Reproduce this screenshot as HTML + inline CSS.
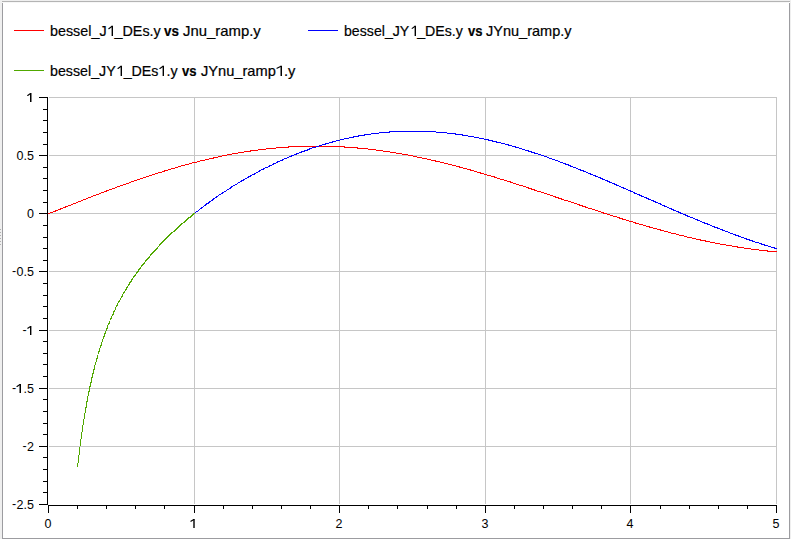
<!DOCTYPE html>
<html><head><meta charset="utf-8"><style>
html,body{margin:0;padding:0;}
body{width:791px;height:539px;background:#efefef;position:relative;overflow:hidden;font-family:"Liberation Sans",sans-serif;}
.frame{position:absolute;left:2px;top:1px;width:788px;height:538px;background:#fff;}
.bt{position:absolute;left:2px;top:1px;width:788px;height:1px;background:#b4b4b4;}
.bt2{position:absolute;left:2px;top:2px;width:787px;height:1px;background:#f7f7f7;}
.bl{position:absolute;left:2px;top:3px;width:1px;height:536px;background:#9c9ca0;}
.br{position:absolute;left:789px;top:3px;width:1px;height:536px;background:#9c9ca0;}
.bb{position:absolute;left:2px;top:538px;width:788px;height:1px;background:#9c9ca0;}
.dot{position:absolute;left:0;width:1px;height:1px;background:#b0b0b0;}
svg{position:absolute;left:0;top:0;}
.leg{position:absolute;white-space:nowrap;font-size:14.5px;color:#000;line-height:20px;-webkit-text-stroke:0.2px #000;transform-origin:0 0;}
.leg.b{font-weight:bold;}
.one{position:relative;color:transparent;-webkit-text-stroke:0;}
.mn{position:relative;top:-1px;left:-0.5px;}
.yl{position:absolute;right:757px;font-size:12.5px;line-height:16px;color:#000;white-space:nowrap;}
.xl{position:absolute;top:516px;width:40px;text-align:center;font-size:12.5px;line-height:16px;color:#000;}
</style></head><body>
<div class="frame"></div>
<div class="bt"></div><div class="bt2"></div><div class="bl"></div><div class="br"></div><div class="bb"></div>
<div class="dot" style="top:229px"></div><div class="dot" style="top:232px"></div><div class="dot" style="top:235px"></div><div class="dot" style="top:238px"></div><div class="dot" style="top:241px"></div><div class="dot" style="top:244px"></div>
<svg width="791" height="539" shape-rendering="crispEdges">
<rect x="14" y="30" width="30" height="1" fill="#ff0000"/>
<rect x="308" y="30" width="30" height="1" fill="#0000ff"/>
<rect x="14" y="70" width="30" height="1" fill="#50a800"/>
<path d="M194 97h1v407h-1zM339 97h1v407h-1zM485 97h1v407h-1zM630 97h1v407h-1zM776 97h1v407h-1zM49 97h728v1h-728zM49 155h728v1h-728zM49 213h728v1h-728zM49 271h728v1h-728zM49 330h728v1h-728zM49 388h728v1h-728zM49 446h728v1h-728z" fill="#c6c6c6"/>
<path d="M47 97h1v408h-1zM39 97h8v1h-8zM43 109h4v1h-4zM43 120h4v1h-4zM43 132h4v1h-4zM43 144h4v1h-4zM39 155h8v1h-8zM43 167h4v1h-4zM43 178h4v1h-4zM43 190h4v1h-4zM43 202h4v1h-4zM39 213h8v1h-8zM43 225h4v1h-4zM43 237h4v1h-4zM43 248h4v1h-4zM43 260h4v1h-4zM39 271h8v1h-8zM43 283h4v1h-4zM43 295h4v1h-4zM43 306h4v1h-4zM43 318h4v1h-4zM39 330h8v1h-8zM43 341h4v1h-4zM43 353h4v1h-4zM43 364h4v1h-4zM43 376h4v1h-4zM39 388h8v1h-8zM43 399h4v1h-4zM43 411h4v1h-4zM43 423h4v1h-4zM43 434h4v1h-4zM39 446h8v1h-8zM43 457h4v1h-4zM43 469h4v1h-4zM43 481h4v1h-4zM43 492h4v1h-4zM39 504h8v1h-8zM48 505h729v1h-729zM48 505h1v8h-1zM77 505h1v4h-1zM106 505h1v4h-1zM135 505h1v4h-1zM164 505h1v4h-1zM194 505h1v8h-1zM223 505h1v4h-1zM252 505h1v4h-1zM281 505h1v4h-1zM310 505h1v4h-1zM339 505h1v8h-1zM368 505h1v4h-1zM397 505h1v4h-1zM427 505h1v4h-1zM456 505h1v4h-1zM485 505h1v8h-1zM514 505h1v4h-1zM543 505h1v4h-1zM572 505h1v4h-1zM601 505h1v4h-1zM630 505h1v8h-1zM660 505h1v4h-1zM689 505h1v4h-1zM718 505h1v4h-1zM747 505h1v4h-1zM776 505h1v8h-1z" fill="#000"/>
<path d="M288 146h57v1h-57zM276 147h13v1h-13zM344 147h14v1h-14zM266 148h10v1h-10zM357 148h11v1h-11zM258 149h8v1h-8zM368 149h8v1h-8zM250 150h8v1h-8zM376 150h7v1h-7zM244 151h7v1h-7zM383 151h7v1h-7zM238 152h6v1h-6zM390 152h6v1h-6zM232 153h6v1h-6zM396 153h6v1h-6zM227 154h5v1h-5zM402 154h6v1h-6zM222 155h5v1h-5zM408 155h5v1h-5zM218 156h4v1h-4zM413 156h4v1h-4zM213 157h5v1h-5zM417 157h5v1h-5zM209 158h5v1h-5zM422 158h5v1h-5zM205 159h4v1h-4zM427 159h4v1h-4zM200 160h5v1h-5zM431 160h5v1h-5zM197 161h3v1h-3zM435 161h5v1h-5zM192 162h5v1h-5zM440 162h4v1h-4zM189 163h3v1h-3zM444 163h4v1h-4zM185 164h4v1h-4zM448 164h4v1h-4zM181 165h4v1h-4zM452 165h4v1h-4zM178 166h3v1h-3zM456 166h4v1h-4zM175 167h3v1h-3zM459 167h4v1h-4zM171 168h4v1h-4zM463 168h4v1h-4zM168 169h3v1h-3zM467 169h4v1h-4zM164 170h4v1h-4zM470 170h4v1h-4zM162 171h3v1h-3zM474 171h3v1h-3zM158 172h4v1h-4zM477 172h4v1h-4zM155 173h3v1h-3zM480 173h4v1h-4zM152 174h3v1h-3zM484 174h3v1h-3zM149 175h3v1h-3zM487 175h4v1h-4zM146 176h3v1h-3zM491 176h4v1h-4zM143 177h3v1h-3zM494 177h3v1h-3zM140 178h3v1h-3zM497 178h3v1h-3zM137 179h3v1h-3zM500 179h4v1h-4zM134 180h3v1h-3zM504 180h3v1h-3zM131 181h3v1h-3zM507 181h4v1h-4zM129 182h2v1h-2zM510 182h3v1h-3zM126 183h3v1h-3zM513 183h3v1h-3zM123 184h3v1h-3zM516 184h3v1h-3zM120 185h3v1h-3zM519 185h4v1h-4zM117 186h3v1h-3zM523 186h3v1h-3zM115 187h2v1h-2zM526 187h3v1h-3zM112 188h3v1h-3zM528 188h4v1h-4zM109 189h3v1h-3zM531 189h4v1h-4zM106 190h3v1h-3zM534 190h3v1h-3zM104 191h3v1h-3zM537 191h4v1h-4zM101 192h3v1h-3zM541 192h3v1h-3zM99 193h2v1h-2zM544 193h3v1h-3zM96 194h3v1h-3zM547 194h3v1h-3zM93 195h3v1h-3zM550 195h3v1h-3zM91 196h2v1h-2zM553 196h3v1h-3zM88 197h3v1h-3zM555 197h4v1h-4zM86 198h2v1h-2zM558 198h4v1h-4zM83 199h3v1h-3zM561 199h3v1h-3zM81 200h2v1h-2zM564 200h4v1h-4zM78 201h3v1h-3zM568 201h3v1h-3zM76 202h2v1h-2zM571 202h3v1h-3zM73 203h3v1h-3zM574 203h3v1h-3zM71 204h2v1h-2zM577 204h3v1h-3zM68 205h3v1h-3zM579 205h4v1h-4zM65 206h3v1h-3zM582 206h4v1h-4zM63 207h3v1h-3zM585 207h3v1h-3zM60 208h3v1h-3zM588 208h4v1h-4zM58 209h3v1h-3zM592 209h3v1h-3zM55 210h3v1h-3zM595 210h3v1h-3zM53 211h3v1h-3zM598 211h3v1h-3zM50 212h3v1h-3zM601 212h3v1h-3zM48 213h2v1h-2zM603 213h4v1h-4zM607 214h3v1h-3zM610 215h3v1h-3zM613 216h4v1h-4zM617 217h3v1h-3zM619 218h4v1h-4zM622 219h4v1h-4zM626 220h3v1h-3zM629 221h4v1h-4zM633 222h3v1h-3zM635 223h4v1h-4zM639 224h4v1h-4zM643 225h3v1h-3zM646 226h4v1h-4zM649 227h4v1h-4zM653 228h4v1h-4zM657 229h4v1h-4zM660 230h4v1h-4zM664 231h4v1h-4zM668 232h3v1h-3zM671 233h5v1h-5zM676 234h3v1h-3zM679 235h5v1h-5zM684 236h3v1h-3zM687 237h5v1h-5zM692 238h4v1h-4zM696 239h5v1h-5zM700 240h6v1h-6zM705 241h5v1h-5zM710 242h5v1h-5zM715 243h5v1h-5zM720 244h6v1h-6zM726 245h6v1h-6zM732 246h6v1h-6zM737 247h7v1h-7zM744 248h7v1h-7zM751 249h8v1h-8zM759 250h9v1h-9zM767 251h10v1h-10z" fill="#ff0000"/>
<path d="M389 131h47v1h-47zM379 132h11v1h-11zM436 132h11v1h-11zM371 133h8v1h-8zM447 133h9v1h-9zM364 134h7v1h-7zM455 134h8v1h-8zM358 135h7v1h-7zM462 135h6v1h-6zM353 136h6v1h-6zM468 136h6v1h-6zM349 137h5v1h-5zM474 137h5v1h-5zM344 138h5v1h-5zM479 138h5v1h-5zM340 139h4v1h-4zM484 139h5v1h-5zM336 140h4v1h-4zM488 140h5v1h-5zM332 141h4v1h-4zM492 141h5v1h-5zM329 142h4v1h-4zM496 142h5v1h-5zM325 143h4v1h-4zM501 143h4v1h-4zM322 144h4v1h-4zM505 144h4v1h-4zM319 145h3v1h-3zM508 145h4v1h-4zM316 146h3v1h-3zM512 146h4v1h-4zM312 147h4v1h-4zM515 147h4v1h-4zM309 148h3v1h-3zM519 148h3v1h-3zM307 149h3v1h-3zM522 149h3v1h-3zM304 150h4v1h-4zM525 150h4v1h-4zM301 151h4v1h-4zM528 151h4v1h-4zM299 152h3v1h-3zM531 152h4v1h-4zM296 153h3v1h-3zM534 153h4v1h-4zM294 154h3v1h-3zM538 154h3v1h-3zM291 155h3v1h-3zM541 155h3v1h-3zM289 156h3v1h-3zM544 156h3v1h-3zM287 157h2v1h-2zM547 157h2v1h-2zM284 158h3v1h-3zM549 158h3v1h-3zM282 159h2v1h-2zM552 159h3v1h-3zM280 160h3v1h-3zM555 160h3v1h-3zM277 161h3v1h-3zM558 161h2v1h-2zM276 162h2v1h-2zM560 162h3v1h-3zM273 163h3v1h-3zM563 163h3v1h-3zM272 164h2v1h-2zM565 164h4v1h-4zM269 165h3v1h-3zM568 165h3v1h-3zM268 166h2v1h-2zM570 166h3v1h-3zM265 167h3v1h-3zM573 167h3v1h-3zM263 168h2v1h-2zM576 168h2v1h-2zM261 169h3v1h-3zM578 169h3v1h-3zM259 170h2v1h-2zM580 170h4v1h-4zM258 171h2v1h-2zM583 171h3v1h-3zM256 172h2v1h-2zM586 172h2v1h-2zM254 173h2v1h-2zM588 173h3v1h-3zM252 174h3v1h-3zM590 174h3v1h-3zM250 175h2v1h-2zM593 175h3v1h-3zM248 176h3v1h-3zM595 176h3v1h-3zM247 177h2v1h-2zM598 177h3v1h-3zM245 178h2v1h-2zM600 178h3v1h-3zM243 179h2v1h-2zM602 179h3v1h-3zM241 180h3v1h-3zM605 180h3v1h-3zM240 181h2v1h-2zM607 181h3v1h-3zM238 182h2v1h-2zM609 182h3v1h-3zM237 183h1v1h-1zM612 183h3v1h-3zM235 184h2v1h-2zM614 184h3v1h-3zM233 185h2v1h-2zM616 185h3v1h-3zM231 186h2v1h-2zM619 186h2v1h-2zM230 187h2v1h-2zM621 187h3v1h-3zM229 188h2v1h-2zM623 188h3v1h-3zM227 189h2v1h-2zM626 189h2v1h-2zM226 190h1v1h-1zM628 190h3v1h-3zM224 191h2v1h-2zM630 191h3v1h-3zM222 192h2v1h-2zM633 192h2v1h-2zM221 193h2v1h-2zM634 193h3v1h-3zM219 194h2v1h-2zM637 194h3v1h-3zM218 195h1v1h-1zM639 195h3v1h-3zM216 196h2v1h-2zM641 196h3v1h-3zM215 197h2v1h-2zM644 197h3v1h-3zM213 198h2v1h-2zM646 198h3v1h-3zM212 199h2v1h-2zM648 199h3v1h-3zM211 200h2v1h-2zM651 200h3v1h-3zM209 201h2v1h-2zM653 201h3v1h-3zM208 202h2v1h-2zM655 202h3v1h-3zM206 203h3v1h-3zM658 203h3v1h-3zM205 204h2v1h-2zM660 204h2v1h-2zM204 205h2v1h-2zM662 205h3v1h-3zM203 206h1v1h-1zM664 206h3v1h-3zM201 207h2v1h-2zM667 207h2v1h-2zM200 208h2v1h-2zM669 208h3v1h-3zM199 209h1v1h-1zM671 209h3v1h-3zM198 210h1v1h-1zM673 210h3v1h-3zM196 211h2v1h-2zM676 211h3v1h-3zM195 212h1v1h-1zM678 212h3v1h-3zM194 213h1v1h-1zM680 213h3v1h-3zM683 214h3v1h-3zM685 215h3v1h-3zM687 216h3v1h-3zM690 217h3v1h-3zM693 218h2v1h-2zM695 219h3v1h-3zM697 220h3v1h-3zM700 221h2v1h-2zM702 222h3v1h-3zM704 223h4v1h-4zM707 224h3v1h-3zM710 225h2v1h-2zM712 226h3v1h-3zM714 227h4v1h-4zM717 228h3v1h-3zM720 229h3v1h-3zM722 230h3v1h-3zM725 231h3v1h-3zM728 232h2v1h-2zM730 233h3v1h-3zM733 234h3v1h-3zM735 235h4v1h-4zM738 236h3v1h-3zM741 237h3v1h-3zM744 238h3v1h-3zM746 239h4v1h-4zM749 240h4v1h-4zM752 241h3v1h-3zM755 242h4v1h-4zM759 243h3v1h-3zM761 244h4v1h-4zM764 245h4v1h-4zM768 246h3v1h-3zM771 247h4v1h-4zM774 248h3v1h-3z" fill="#0000ff"/>
<path d="M193 213h2v1h-2zM192 214h2v1h-2zM191 215h2v1h-2zM190 216h2v1h-2zM188 217h3v1h-3zM187 218h2v1h-2zM186 219h2v1h-2zM185 220h2v1h-2zM184 221h2v1h-2zM183 222h2v1h-2zM181 223h2v1h-2zM180 224h2v1h-2zM179 225h2v1h-2zM178 226h2v1h-2zM177 227h2v1h-2zM176 228h2v1h-2zM175 229h2v1h-2zM174 230h2v1h-2zM173 231h2v1h-2zM171 232h2v1h-2zM170 233h2v1h-2zM169 234h2v1h-2zM168 235h2v1h-2zM167 236h2v1h-2zM166 237h2v1h-2zM165 238h2v1h-2zM164 239h2v1h-2zM163 240h2v1h-2zM162 241h2v1h-2zM161 242h2v1h-2zM160 243h2v1h-2zM159 244h2v1h-2zM159 245h1v1h-1zM158 246h1v1h-1zM157 247h1v1h-1zM156 248h2v1h-2zM155 249h2v1h-2zM154 250h2v1h-2zM153 251h2v1h-2zM152 252h2v1h-2zM151 253h2v1h-2zM150 254h2v1h-2zM150 255h1v1h-1zM149 256h1v1h-1zM148 257h2v1h-2zM147 258h2v1h-2zM146 259h2v1h-2zM145 260h2v1h-2zM145 261h1v1h-1zM144 262h1v1h-1zM143 263h2v1h-2zM142 264h2v1h-2zM141 265h2v1h-2zM141 266h1v1h-1zM140 267h1v1h-1zM139 268h2v1h-2zM138 269h2v1h-2zM138 270h1v1h-1zM137 271h2v1h-2zM136 272h2v1h-2zM136 273h1v1h-1zM135 274h1v1h-1zM134 275h2v1h-2zM133 276h2v1h-2zM133 277h1v1h-1zM132 278h1v1h-1zM131 279h2v1h-2zM131 280h1v1h-1zM130 281h2v1h-2zM129 282h2v1h-2zM129 283h1v1h-1zM128 284h2v1h-2zM128 285h1v1h-1zM127 286h1v1h-1zM126 287h2v1h-2zM126 288h1v1h-1zM125 289h2v1h-2zM125 290h1v1h-1zM124 291h1v1h-1zM123 292h2v1h-2zM123 293h1v1h-1zM122 294h1v1h-1zM122 295h1v1h-1zM121 296h2v1h-2zM121 297h1v1h-1zM120 298h1v1h-1zM120 299h1v1h-1zM119 300h1v1h-1zM118 301h2v1h-2zM118 302h1v1h-1zM117 303h1v1h-1zM117 304h1v1h-1zM116 305h2v1h-2zM116 306h1v1h-1zM115 307h1v1h-1zM115 308h1v1h-1zM115 309h1v1h-1zM114 310h1v1h-1zM113 311h2v1h-2zM113 312h1v1h-1zM113 313h1v1h-1zM112 314h2v1h-2zM112 315h1v1h-1zM111 316h1v1h-1zM111 317h1v1h-1zM110 318h2v1h-2zM110 319h1v1h-1zM109 321h1v1h-1zM109 322h1v1h-1zM108 323h2v1h-2zM108 324h1v1h-1zM107 325h1v1h-1zM107 326h1v1h-1zM107 327h1v1h-1zM106 328h2v1h-2zM106 329h1v1h-1zM106 330h1v1h-1zM105 331h1v1h-1zM105 332h1v1h-1zM104 333h2v1h-2zM104 334h1v1h-1zM104 335h1v1h-1zM103 336h2v1h-2zM103 337h1v1h-1zM103 338h1v1h-1zM102 339h1v1h-1zM102 340h1v1h-1zM102 341h1v1h-1zM101 342h1v1h-1zM101 343h1v1h-1zM101 344h1v1h-1zM100 345h2v1h-2zM100 346h1v1h-1zM100 347h1v1h-1zM99 348h1v1h-1zM99 349h1v1h-1zM99 350h1v1h-1zM98 351h2v1h-2zM98 352h1v1h-1zM98 353h1v1h-1zM97 355h1v1h-1zM97 356h1v1h-1zM97 357h1v1h-1zM96 358h2v1h-2zM96 359h1v1h-1zM96 360h1v1h-1zM96 361h1v1h-1zM95 362h1v1h-1zM95 363h1v1h-1zM95 364h1v1h-1zM94 365h1v1h-1zM94 366h1v1h-1zM94 367h1v1h-1zM94 368h1v1h-1zM93 369h2v1h-2zM93 370h1v1h-1zM93 371h1v1h-1zM93 372h1v1h-1zM92 373h2v1h-2zM92 374h1v1h-1zM92 375h1v1h-1zM92 376h1v1h-1zM91 377h2v1h-2zM91 378h1v1h-1zM91 379h1v1h-1zM91 380h1v1h-1zM91 381h1v1h-1zM90 382h2v1h-2zM90 383h1v1h-1zM90 384h1v1h-1zM90 385h1v1h-1zM89 386h2v1h-2zM89 387h1v1h-1zM89 388h1v1h-1zM89 389h1v1h-1zM89 390h1v1h-1zM88 391h2v1h-2zM88 392h1v1h-1zM88 393h1v1h-1zM88 394h1v1h-1zM88 395h1v1h-1zM87 396h1v1h-1zM87 397h1v1h-1zM87 398h1v1h-1zM87 399h1v1h-1zM87 400h1v1h-1zM86 401h2v1h-2zM86 402h1v1h-1zM86 403h1v1h-1zM86 404h1v1h-1zM86 405h1v1h-1zM86 406h1v1h-1zM85 407h2v1h-2zM85 408h1v1h-1zM85 409h1v1h-1zM85 410h1v1h-1zM85 411h1v1h-1zM85 412h1v1h-1zM84 413h1v1h-1zM84 414h1v1h-1zM84 415h1v1h-1zM84 416h1v1h-1zM84 417h1v1h-1zM84 418h1v1h-1zM83 419h1v1h-1zM83 420h1v1h-1zM83 421h1v1h-1zM83 422h1v1h-1zM83 423h1v1h-1zM83 424h1v1h-1zM82 425h1v1h-1zM82 426h1v1h-1zM82 427h1v1h-1zM82 428h1v1h-1zM82 429h1v1h-1zM82 430h1v1h-1zM82 431h1v1h-1zM81 432h1v1h-1zM81 433h1v1h-1zM81 434h1v1h-1zM81 435h1v1h-1zM81 436h1v1h-1zM81 437h1v1h-1zM81 438h1v1h-1zM80 439h1v1h-1zM80 440h1v1h-1zM80 441h1v1h-1zM80 442h1v1h-1zM80 443h1v1h-1zM80 444h1v1h-1zM80 445h1v1h-1zM79 447h1v1h-1zM79 448h1v1h-1zM79 449h1v1h-1zM79 450h1v1h-1zM79 451h1v1h-1zM79 452h1v1h-1zM79 453h1v1h-1zM79 454h1v1h-1zM78 455h1v1h-1zM78 456h1v1h-1zM78 457h1v1h-1zM78 458h1v1h-1zM78 459h1v1h-1zM78 460h1v1h-1zM78 461h1v1h-1zM78 462h1v1h-1zM77 463h1v1h-1zM77 464h1v1h-1zM77 465h1v1h-1zM77 466h1v1h-1z" fill="#50a800"/>
<g shape-rendering="geometricPrecision"><rect x="111.6" y="25.8" width="1.40" height="10.2" fill="#000"/><line x1="108.8" y1="28.7" x2="112.10" y2="26.30" stroke="#000" stroke-width="1.15" stroke-linecap="round"/><rect x="414.6" y="25.8" width="1.40" height="10.2" fill="#000"/><line x1="412.2" y1="28.4" x2="415.10" y2="26.30" stroke="#000" stroke-width="1.15" stroke-linecap="round"/><rect x="120.6" y="65.8" width="1.40" height="10.200000000000003" fill="#000"/><line x1="118.0" y1="68.5" x2="121.10" y2="66.30" stroke="#000" stroke-width="1.15" stroke-linecap="round"/><rect x="162.6" y="65.8" width="1.40" height="10.200000000000003" fill="#000"/><line x1="159.9" y1="68.4" x2="163.10" y2="66.30" stroke="#000" stroke-width="1.15" stroke-linecap="round"/><rect x="280.5" y="65.8" width="1.50" height="10.200000000000003" fill="#000"/><line x1="277.0" y1="68.2" x2="281.00" y2="66.30" stroke="#000" stroke-width="1.15" stroke-linecap="round"/><rect x="30.0" y="93.0" width="1.50" height="9.0" fill="#000"/><line x1="27.7" y1="95.5" x2="30.50" y2="93.50" stroke="#000" stroke-width="1.15" stroke-linecap="round"/><rect x="30.0" y="326.0" width="1.40" height="9.0" fill="#000"/><line x1="27.8" y1="328.2" x2="30.50" y2="326.50" stroke="#000" stroke-width="1.15" stroke-linecap="round"/><rect x="19.5" y="384.0" width="1.50" height="9.0" fill="#000"/><line x1="17.0" y1="386.4" x2="20.00" y2="384.50" stroke="#000" stroke-width="1.15" stroke-linecap="round"/><rect x="193.3" y="519.0" width="1.40" height="9.0" fill="#000"/><line x1="190.9" y1="521.2" x2="193.80" y2="519.50" stroke="#000" stroke-width="1.15" stroke-linecap="round"/></g>
</svg>
<div class="leg" style="left:49.81px;top:21px;transform:scaleX(0.9883)">bessel_J<span class="one">1</span>_DEs.y</div><div class="leg b" style="left:164.30px;top:21px;transform:scaleX(0.9250)">vs</div><div class="leg" style="left:183.20px;top:21px;transform:scaleX(1.0263)">Jnu_ramp.y</div><div class="leg" style="left:344.02px;top:21px;transform:scaleX(0.9760)">bessel_JY<span class="one">1</span>_DEs.y</div><div class="leg b" style="left:467.70px;top:21px;transform:scaleX(0.9000)">vs</div><div class="leg" style="left:486.30px;top:21px;transform:scaleX(1.0012)">JYnu_ramp.y</div><div class="leg" style="left:49.62px;top:61px;transform:scaleX(0.9822)">bessel_JY<span class="one">1</span>_DEs<span class="one">1</span>.y</div><div class="leg b" style="left:181.90px;top:61px;transform:scaleX(0.9000)">vs</div><div class="leg" style="left:200.80px;top:61px;transform:scaleX(1.0085)">JYnu_ramp<span class="one">1</span>.y</div>
<div class="yl" style="top:90px"><span class="one">1</span></div><div class="yl" style="top:148px">0.5</div><div class="yl" style="top:206px">0</div><div class="yl" style="top:264px"><span class="mn">-</span>0.5</div><div class="yl" style="top:323px"><span class="mn">-</span><span class="one">1</span></div><div class="yl" style="top:381px"><span class="mn">-</span><span class="one">1</span>.5</div><div class="yl" style="top:439px"><span class="mn">-</span>2</div><div class="yl" style="top:497px"><span class="mn">-</span>2.5</div>
<div class="xl" style="left:28px">0</div><div class="xl" style="left:174px"><span class="one">1</span></div><div class="xl" style="left:319px">2</div><div class="xl" style="left:465px">3</div><div class="xl" style="left:610px">4</div><div class="xl" style="left:756px">5</div>
</body></html>
